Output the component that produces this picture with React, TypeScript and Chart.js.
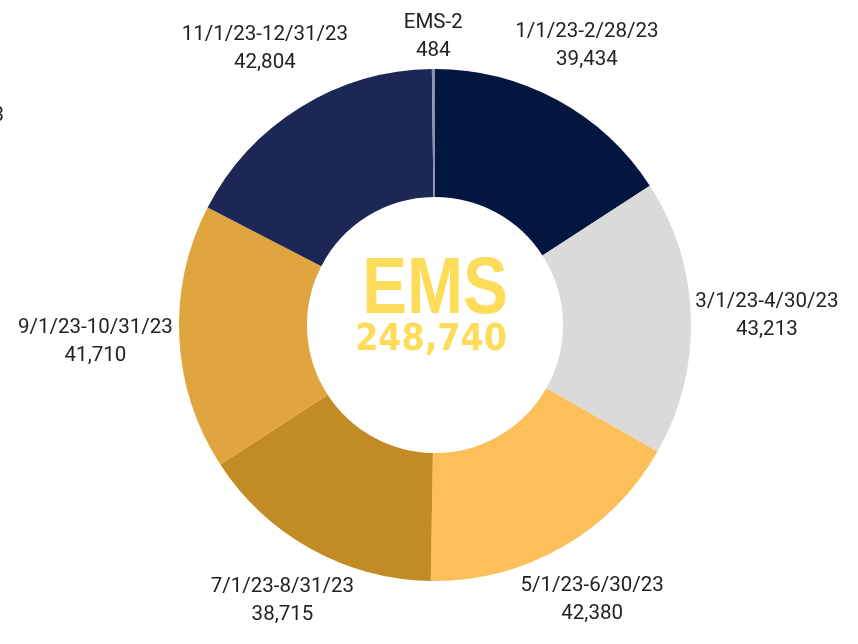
import React, { useEffect, useRef } from "react";
import { Chart, registerables } from "chart.js";

Chart.register(...registerables);

const categories = [
  "1/1/23-2/28/23",
  "3/1/23-4/30/23",
  "5/1/23-6/30/23",
  "7/1/23-8/31/23",
  "9/1/23-10/31/23",
  "11/1/23-12/31/23",
  "EMS-2",
];
const values = [39434, 43213, 42380, 38715, 41710, 42804, 484];
const colors = ["#031640", "#DADADA", "#FDBF5A", "#C38B25", "#E0A53F", "#1D2756", "#8A90B2"];
const labelDistance = [318, 332, 317, 315, 340, 324, 288];
const centerTitle = "EMS";
const total = values.reduce((a, b) => a + b, 0);

const fmt = (n: number) => n.toLocaleString("en-US");

const labelPlugin = {
  id: "sliceLabels",
  afterDraw(chart: any) {
    const ctx = chart.ctx;
    const meta = chart.getDatasetMeta(0);
    ctx.save();
    ctx.fillStyle = "#222222";
    ctx.font = '20.5px Roboto, "Liberation Sans", sans-serif';
    ctx.textAlign = "center";
    ctx.textBaseline = "middle";
    meta.data.forEach((arc: any, i: number) => {
      const mid = (arc.startAngle + arc.endAngle) / 2;
      const d = labelDistance[i];
      const x = arc.x + Math.cos(mid) * d;
      const y = arc.y + Math.sin(mid) * d;
      ctx.fillText(categories[i], x, y - 14);
      ctx.fillText(fmt(values[i]), x, y + 14);
    });
    // clipped stray text at left edge
    ctx.textAlign = "right";
    ctx.fillText("3", 4, 116);

    // center text
    const a0 = meta.data[0];
    ctx.fillStyle = "#FDDC5A";
    ctx.textAlign = "center";
    ctx.textBaseline = "alphabetic";
    ctx.save();
    ctx.translate(a0.x, a0.y - 12);
    ctx.scale(0.84, 1);
    ctx.font = 'bold 80px "Liberation Sans", Arial, sans-serif';
    ctx.fillText(centerTitle, 0, 0);
    ctx.restore();
    ctx.font = 'bold 37px "DejaVu Sans Condensed", "Liberation Sans Narrow", sans-serif';
    ctx.fillText(fmt(total), a0.x - 4, a0.y + 25);
    ctx.restore();
  },
};

export default function App() {
  const ref = useRef<HTMLCanvasElement | null>(null);
  useEffect(() => {
    document.body.style.margin = "0";
    if (!ref.current) return;
    const chart = new Chart(ref.current, {
      type: "doughnut",
      data: {
        labels: categories,
        datasets: [
          {
            data: values,
            backgroundColor: colors,
            borderWidth: 0,
          },
        ],
      },
      options: {
        animation: false,
        responsive: false,
        cutout: "50%",
        layout: { padding: { left: 179, right: 167, top: 69, bottom: 63 } },
        plugins: {
          legend: { display: false },
          tooltip: { enabled: false },
        },
      },
      plugins: [labelPlugin],
    });
    return () => chart.destroy();
  }, []);
  return (
    <div style={{ width: 858, height: 644, background: "#ffffff" }}>
      <canvas ref={ref} width={858} height={644} />
    </div>
  );
}
